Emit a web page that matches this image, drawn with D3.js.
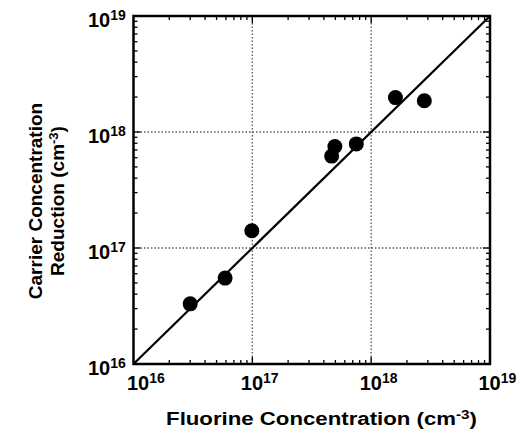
<!DOCTYPE html>
<html><head><meta charset="utf-8">
<script src="https://cdn.jsdelivr.net/npm/d3@7"></script>
<style>body{margin:0;background:#fff}svg{display:block}</style>
</head><body>
<script>
// Data: fluorine concentration (x) vs carrier concentration reduction (y), cm^-3
const fluorine = [3.0e16, 5.9e16, 9.9e16, 4.65e17, 4.95e17, 7.5e17, 1.6e18, 2.8e18];
const reduction = [3.3e16, 5.5e16, 1.41e17, 6.2e17, 7.5e17, 7.9e17, 1.98e18, 1.86e18];
const fitLine = [1e16, 1e19];           // y = x reference line endpoints
const decadeExps = [16, 17, 18, 19];    // tick label exponents
const xTitle = "Fluorine Concentration (cm";
const yTitle1 = "Carrier Concentration";
const yTitle2 = "Reduction (cm";

const W = 524, H = 430;
const L = 133.5, R = 490, T = 16, B = 364;
const svg = d3.select("body").append("svg").attr("width", W).attr("height", H);
const x = d3.scaleLog().domain([1e16, 1e19]).range([L, R]);
const y = d3.scaleLog().domain([1e16, 1e19]).range([B, T]);
const font = "'Liberation Sans', Arial, Helvetica, sans-serif";

// gridlines (dotted) at inner decades
const inner = [1e17, 1e18];
svg.append("g").selectAll("line.gx").data(inner).join("line")
  .attr("x1", d => x(d)).attr("x2", d => x(d)).attr("y1", T).attr("y2", B)
  .attr("stroke", "#555").attr("stroke-width", 1.3).attr("stroke-dasharray", "1.5,2");
svg.append("g").selectAll("line.gy").data(inner).join("line")
  .attr("y1", d => y(d)).attr("y2", d => y(d)).attr("x1", L).attr("x2", R)
  .attr("stroke", "#555").attr("stroke-width", 1.3).attr("stroke-dasharray", "1.5,2");

// minor ticks inside on all four sides
const minor = [];
for (let e = 16; e < 19; e++) for (let m = 2; m <= 9; m++) minor.push(m * Math.pow(10, e));
const tk = 4;
const gt = svg.append("g").attr("stroke", "#000").attr("stroke-width", 1.3);
gt.selectAll("line.b").data(minor).join("line").attr("x1", d => x(d)).attr("x2", d => x(d)).attr("y1", B).attr("y2", B - tk);
gt.selectAll("line.t").data(minor).join("line").attr("x1", d => x(d)).attr("x2", d => x(d)).attr("y1", T).attr("y2", T + tk);
gt.selectAll("line.l").data(minor).join("line").attr("y1", d => y(d)).attr("y2", d => y(d)).attr("x1", L).attr("x2", L + tk);
gt.selectAll("line.r").data(minor).join("line").attr("y1", d => y(d)).attr("y2", d => y(d)).attr("x1", R).attr("x2", R - tk);
// major ticks
gt.selectAll("line.mb").data(inner).join("line").attr("x1", d => x(d)).attr("x2", d => x(d)).attr("y1", B).attr("y2", B - 7);
gt.selectAll("line.mt").data(inner).join("line").attr("x1", d => x(d)).attr("x2", d => x(d)).attr("y1", T).attr("y2", T + 7);
gt.selectAll("line.ml").data(inner).join("line").attr("y1", d => y(d)).attr("y2", d => y(d)).attr("x1", L).attr("x2", L + 7);
gt.selectAll("line.mr").data(inner).join("line").attr("y1", d => y(d)).attr("y2", d => y(d)).attr("x1", R).attr("x2", R - 7);

// frame
svg.append("rect").attr("x", L).attr("y", T).attr("width", R - L).attr("height", B - T)
  .attr("fill", "none").attr("stroke", "#000").attr("stroke-width", 2.5);

// y = x line
svg.append("line").attr("x1", x(fitLine[0])).attr("y1", y(fitLine[0]))
  .attr("x2", x(fitLine[1])).attr("y2", y(fitLine[1]))
  .attr("stroke", "#000").attr("stroke-width", 2.2);

// points
svg.append("g").selectAll("circle").data(fluorine).join("circle")
  .attr("cx", d => x(d)).attr("cy", (d, i) => y(reduction[i])).attr("r", 7.5).attr("fill", "#000");

// x tick labels
const xl = svg.append("g").attr("font-family", font).attr("font-weight", "bold").attr("fill", "#000");
decadeExps.forEach((e, i) => {
  const cx = x(Math.pow(10, e)) + (i === 0 ? 5 : 0);
  const t = xl.append("text").attr("x", cx - 11.5).attr("y", 390).attr("font-size", 20);
  t.append("tspan").text("10");
  t.append("tspan").attr("font-size", 14).attr("dy", -7).text(String(e));
});
// y tick labels
const yl = svg.append("g").attr("font-family", font).attr("font-weight", "bold").attr("fill", "#000");
decadeExps.forEach((e, i) => {
  const cy = y(Math.pow(10, e));
  const t = yl.append("text").attr("x", 88).attr("y", cy + 11).attr("font-size", 20);
  t.append("tspan").text("10");
  t.append("tspan").attr("font-size", 14).attr("dy", -7).text(String(e));
});

// axis titles
const xt = svg.append("g").attr("transform", "translate(321.5,425) scale(1.17,1)")
  .append("text").attr("x", 0).attr("y", 0).attr("text-anchor", "middle")
  .attr("font-family", font).attr("font-weight", "bold").attr("font-size", 19);
xt.append("tspan").text(xTitle);
xt.append("tspan").attr("font-size", 13).attr("dy", -6).text("-3");
xt.append("tspan").attr("dy", 6).text(")");

const yt = svg.append("g").attr("transform", "translate(0,201) rotate(-90)")
  .attr("font-family", font).attr("font-weight", "bold").attr("font-size", 19).attr("text-anchor", "middle");
yt.append("text").attr("x", 0).attr("y", 42).text(yTitle1);
const y2 = yt.append("text").attr("x", 0).attr("y", 64);
y2.append("tspan").text(yTitle2);
y2.append("tspan").attr("font-size", 13).attr("dy", -6).text("-3");
y2.append("tspan").attr("dy", 6).text(")");
</script>
</body></html>
